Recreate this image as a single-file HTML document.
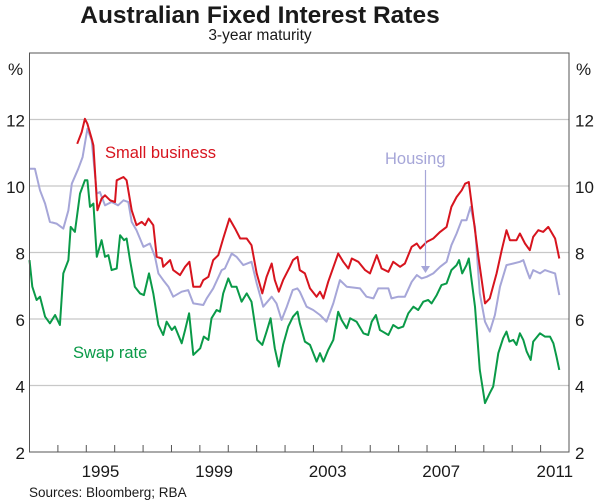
<!DOCTYPE html>
<html><head><meta charset="utf-8"><style>
html,body{margin:0;padding:0;background:#fff;}
svg{display:block;font-family:"Liberation Sans",sans-serif;}
</style></head><body>
<svg id="chart" width="600" height="503" viewBox="0 0 600 503" xmlns="http://www.w3.org/2000/svg">
<text x="260" y="23" text-anchor="middle" font-size="24.5" font-weight="bold" fill="#1a1a1a">Australian Fixed Interest Rates</text>
<text x="260" y="40" text-anchor="middle" font-size="15.5" fill="#1a1a1a">3-year maturity</text>
<g id="grid"></g>
<g id="series"></g>
<rect x="29.5" y="53" width="539.5" height="399" fill="none" stroke="#555" stroke-width="1"/>
<g id="axes"></g>
<text x="105" y="158" font-size="16.5" fill="#d7141e">Small business</text>
<text x="385" y="164" font-size="16.5" fill="#a6a6d8">Housing</text>
<text x="73" y="358" font-size="16.5" fill="#0a9a48">Swap rate</text>
<line x1="425.5" y1="170" x2="425.5" y2="268" stroke="#a6a6d8" stroke-width="1.2"/>
<polygon points="421,266 430,266 425.5,273" fill="#a6a6d8"/>
<text x="29" y="497" font-size="13.5" fill="#1a1a1a">Sources: Bloomberg; RBA</text>
</svg>
<script>
const yTicks = [2,4,6,8,10,12];
const xYearLabels = [1995,1999,2003,2007,2011];
const swapYears = [1993.00,1993.10,1993.25,1993.37,1993.55,1993.72,1993.90,1994.07,1994.19,1994.37,1994.45,1994.60,1994.78,1994.95,1995.04,1995.13,1995.25,1995.37,1995.54,1995.66,1995.78,1995.89,1996.07,1996.19,1996.33,1996.42,1996.54,1996.71,1996.89,1997.03,1997.21,1997.36,1997.54,1997.71,1997.83,1998.01,1998.12,1998.36,1998.48,1998.62,1998.77,1999.01,1999.14,1999.30,1999.41,1999.59,1999.71,1999.82,2000.00,2000.12,2000.29,2000.47,2000.65,2000.82,2001.02,2001.20,2001.35,2001.49,2001.64,2001.78,2001.93,2002.11,2002.28,2002.44,2002.52,2002.70,2002.88,2003.11,2003.23,2003.35,2003.52,2003.70,2003.87,2003.99,2004.17,2004.29,2004.52,2004.76,2004.93,2005.05,2005.20,2005.34,2005.64,2005.81,2005.99,2006.16,2006.34,2006.52,2006.69,2006.87,2007.04,2007.16,2007.34,2007.51,2007.69,2007.86,2008.04,2008.13,2008.24,2008.39,2008.47,2008.69,2008.86,2009.04,2009.21,2009.33,2009.51,2009.68,2009.80,2009.90,2010.04,2010.15,2010.27,2010.39,2010.51,2010.65,2010.74,2010.98,2011.15,2011.33,2011.45,2011.56,2011.66];
const swapValues = [7.77,6.97,6.57,6.67,6.07,5.87,6.12,5.82,7.37,7.77,8.77,8.62,9.77,10.17,10.17,9.37,9.47,7.87,8.37,7.87,7.92,7.47,7.52,8.52,8.37,8.42,7.77,6.97,6.77,6.72,7.37,6.77,5.82,5.52,5.92,5.67,5.77,5.27,5.67,6.17,4.92,5.12,5.47,5.37,6.02,6.27,6.22,6.77,7.22,6.97,6.97,6.52,6.77,6.52,5.37,5.22,5.62,6.02,5.12,4.57,5.22,5.77,6.07,6.22,5.87,5.32,5.22,4.72,4.97,4.72,5.07,5.37,6.22,5.97,5.72,6.02,5.92,5.57,5.52,5.92,6.12,5.67,5.52,5.82,5.72,5.77,6.17,6.37,6.27,6.52,6.57,6.47,6.72,7.02,7.07,7.47,7.62,7.77,7.37,7.62,7.82,6.37,4.47,3.47,3.77,3.97,4.97,5.42,5.62,5.32,5.37,5.22,5.57,5.37,5.02,4.77,5.32,5.57,5.47,5.47,5.27,4.87,4.47];
const housingYears = [1993.00,1993.19,1993.37,1993.55,1993.72,1993.95,1994.19,1994.37,1994.49,1994.72,1994.87,1995.04,1995.19,1995.37,1995.48,1995.66,1995.89,1996.12,1996.31,1996.48,1996.60,1996.77,1997.01,1997.24,1997.42,1997.54,1997.71,1997.89,1998.06,1998.36,1998.59,1998.77,1999.12,1999.24,1999.47,1999.77,1999.88,2000.12,2000.29,2000.53,2000.82,2001.00,2001.23,2001.53,2001.70,2001.88,2002.06,2002.27,2002.43,2002.52,2002.76,2002.99,2003.23,2003.46,2003.70,2003.93,2004.17,2004.64,2004.87,2005.11,2005.28,2005.64,2005.75,2005.99,2006.22,2006.46,2006.64,2006.81,2006.99,2007.22,2007.46,2007.69,2007.86,2008.04,2008.22,2008.39,2008.53,2008.69,2008.86,2009.04,2009.21,2009.39,2009.57,2009.80,2010.04,2010.27,2010.39,2010.51,2010.62,2010.74,2010.98,2011.15,2011.33,2011.51,2011.66];
const housingValues = [10.52,10.52,9.87,9.47,8.92,8.87,8.72,9.27,10.07,10.52,10.87,11.72,11.37,9.77,9.82,9.42,9.52,9.42,9.57,9.52,8.92,8.67,8.17,8.27,7.87,7.37,7.17,6.97,6.67,6.82,6.87,6.47,6.42,6.62,6.92,7.47,7.52,7.97,7.87,7.62,7.72,7.07,6.37,6.67,6.47,5.97,6.37,6.87,6.92,6.82,6.37,6.27,6.12,5.92,6.47,7.17,6.97,6.92,6.67,6.62,6.92,6.92,6.62,6.67,6.67,7.12,7.32,7.22,7.27,7.37,7.57,7.72,8.22,8.57,8.97,8.97,9.37,8.77,6.77,5.92,5.62,6.12,6.97,7.62,7.67,7.72,7.77,7.47,7.22,7.47,7.37,7.47,7.42,7.37,6.72];
const smallYears = [1994.68,1994.84,1994.95,1995.04,1995.19,1995.25,1995.39,1995.54,1995.66,1995.84,1996.01,1996.07,1996.31,1996.42,1996.60,1996.77,1996.95,1997.07,1997.19,1997.36,1997.48,1997.66,1997.71,1997.95,1998.06,1998.30,1998.48,1998.63,1998.77,1999.01,1999.12,1999.30,1999.47,1999.65,1999.82,2000.04,2000.24,2000.42,2000.65,2000.82,2001.00,2001.20,2001.35,2001.53,2001.64,2001.78,2001.93,2002.17,2002.28,2002.44,2002.52,2002.70,2002.88,2003.11,2003.23,2003.35,2003.52,2003.87,2004.05,2004.23,2004.35,2004.58,2004.82,2004.99,2005.23,2005.40,2005.64,2005.81,2006.05,2006.22,2006.46,2006.64,2006.76,2006.99,2007.22,2007.46,2007.69,2007.86,2008.04,2008.22,2008.34,2008.47,2008.63,2008.81,2009.04,2009.21,2009.45,2009.63,2009.80,2009.92,2010.15,2010.27,2010.45,2010.62,2010.74,2010.92,2011.09,2011.27,2011.51,2011.66];
const smallValues = [11.27,11.62,12.02,11.87,11.42,11.22,9.27,9.62,9.72,9.57,9.52,10.17,10.27,10.17,9.27,8.82,8.92,8.82,9.02,8.82,7.87,7.82,7.57,7.77,7.47,7.32,7.57,7.72,6.97,6.97,7.17,7.27,7.77,7.92,8.42,9.02,8.72,8.42,8.42,8.22,7.37,6.77,7.27,7.67,7.17,6.82,7.17,7.57,7.77,7.87,7.47,7.37,6.92,6.67,6.82,6.62,7.12,7.97,7.72,7.52,7.82,7.72,7.47,7.37,7.92,7.52,7.42,7.72,7.57,7.67,8.17,8.27,8.12,8.32,8.42,8.62,8.77,9.37,9.67,9.87,10.07,10.12,9.07,7.87,6.47,6.62,7.37,8.07,8.67,8.37,8.37,8.57,8.27,8.07,8.47,8.67,8.62,8.77,8.42,7.82];

const L=29.5,R=569,T=53,B=452,X0=1993,X1=2012,Y0=2,Y1=14;
const NS='http://www.w3.org/2000/svg';
function xs(v){return L+(v-X0)/(X1-X0)*(R-L);}
function ys(v){return B-(v-Y0)/(Y1-Y0)*(B-T);}
function mk(tag,attrs,parent){const e=document.createElementNS(NS,tag);for(const k in attrs)e.setAttribute(k,attrs[k]);parent.appendChild(e);return e;}
const grid=document.getElementById('grid'),axes=document.getElementById('axes'),series=document.getElementById('series');
yTicks.forEach(v=>{
  if(v>Y0){
    const g=mk('line',{x1:L,x2:R,y1:ys(v),y2:ys(v),stroke:'#c8c8c8','stroke-width':1.2},grid);
    
    
  }
  const a=mk('text',{x:25,y:ys(v)+7,'text-anchor':'end','font-size':17,fill:'#1a1a1a'},axes);a.textContent=v;
  
  
  const b=mk('text',{x:575,y:ys(v)+7,'font-size':17,fill:'#1a1a1a'},axes);b.textContent=v;
  
  
});
const p1=mk('text',{x:8,y:75,'font-size':17,fill:'#1a1a1a'},axes);p1.textContent='%';


const p2=mk('text',{x:576,y:75,'font-size':17,fill:'#1a1a1a'},axes);p2.textContent='%';


for(let yr=X0+1;yr<X1;yr++){
  const t=mk('line',{x1:xs(yr),x2:xs(yr),y1:B,y2:B-7,stroke:'#555','stroke-width':1},axes);
  
  
}
xYearLabels.forEach(yr=>{
  const t=mk('text',{x:xs(yr+0.5),y:477,'text-anchor':'middle','font-size':17,fill:'#1a1a1a'},axes);t.textContent=yr;
  
  
});
function line(xsArr,vals,color,name){
  const d=xsArr.map((x,i)=>(i?'L':'M')+xs(x).toFixed(1)+','+ys(vals[i]).toFixed(1)).join('');
  const p=mk('path',{d:d,fill:'none',stroke:color,'stroke-width':2,'stroke-linejoin':'round'},series);
  
  
}
line(housingYears,housingValues,'#a6a6d8','housing-line');
line(swapYears,swapValues,'#0a9a48','swap-rate-line');
line(smallYears,smallValues,'#d7141e','small-business-line');
</script>
</body></html>
